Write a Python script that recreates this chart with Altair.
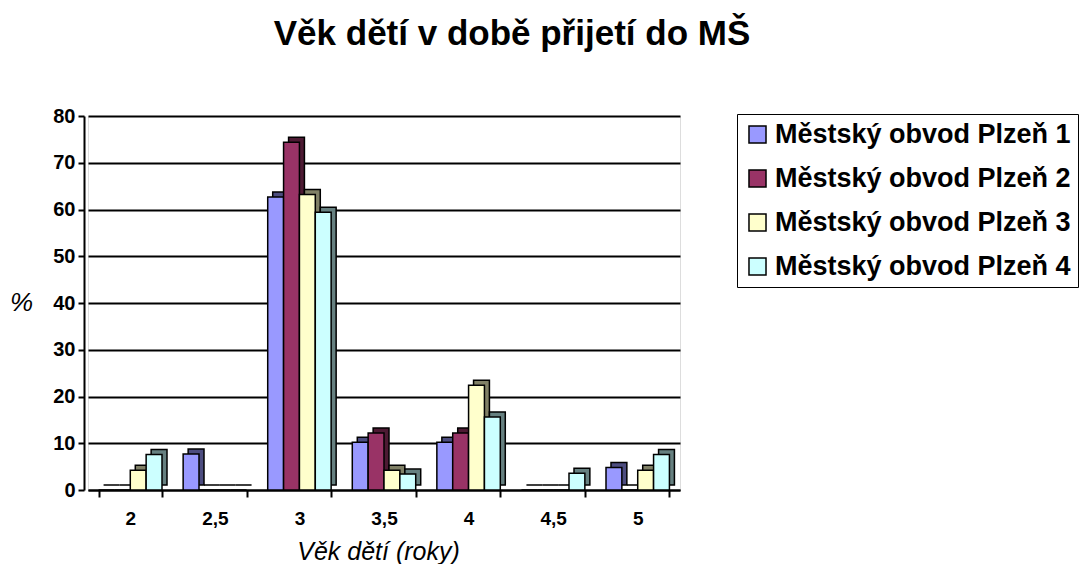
import altair as alt
import pandas as pd

categories = ["2", "2,5", "3", "3,5", "4", "4,5", "5"]
series = ["Městský obvod Plzeň 1", "Městský obvod Plzeň 2", "Městský obvod Plzeň 3", "Městský obvod Plzeň 4"]
p1 = [0, 7.7, 62.7, 10.2, 10.2, 0, 4.8]
p2 = [0, 0, 74.4, 12.2, 12.2, 0, 0]
p3 = [4.2, 0, 63.2, 4.2, 22.4, 0, 4.2]
p4 = [7.6, 0, 59.4, 3.4, 15.6, 3.6, 7.6]
colors = ["#9999FF", "#993366", "#FFFFCC", "#CCFFFF"]
side_colors = ["#4D4D80", "#4D1A33", "#808066", "#668080"]

rows = []
for s, vals in zip(series, [p1, p2, p3, p4]):
    for c, v in zip(categories, vals):
        rows.append({"vek": c, "obvod": s, "pct": v})
df = pd.DataFrame(rows)

FONT = "Liberation Sans"
W, H = 592, 374
PAD_IN, PAD_OUT = 0.25, 0.125
step = W / (len(categories) - PAD_IN + 2 * PAD_OUT)
band = step * (1 - PAD_IN)
DEPTH = 5

x_enc = alt.X("vek:N", sort=categories,
              scale=alt.Scale(paddingInner=PAD_IN, paddingOuter=PAD_OUT),
              axis=alt.Axis(title="Věk dětí (roky)", labelAngle=0, tickBand="extent",
                            labelFont=FONT, labelFontSize=19, labelFontWeight="bold",
                            labelColor="black", labelPadding=12,
                            domainColor="black", domainWidth=2, tickColor="black",
                            tickWidth=2, tickSize=7,
                            titleFont=FONT, titleFontSize=25, titleFontStyle="italic",
                            titleFontWeight="normal", titleColor="black",
                            titleX=290, titleY=69, titleBaseline="alphabetic", titleAlign="center"))
y_enc = alt.Y("pct:Q", scale=alt.Scale(domain=[0, 80], nice=False),
              axis=alt.Axis(title="%", values=list(range(0, 81, 10)), offset=4,
                            labelFont=FONT, labelFontSize=20, labelFontWeight="bold",
                            labelColor="black", labelPadding=3,
                            domainColor="black", domainWidth=2, tickColor="black",
                            tickWidth=2, tickSize=6,
                            grid=True, gridColor="black", gridWidth=2,
                            titleFont=FONT, titleFontSize=26, titleFontStyle="italic",
                            titleFontWeight="normal", titleColor="black", titleAngle=0,
                            titleX=-63, titleY=186, titleBaseline="middle", titleAlign="center"))

side = alt.Chart(df).mark_bar(stroke="black", strokeWidth=1.5,
                              yOffset=-DEPTH, y2Offset=-DEPTH).encode(
    x=x_enc,
    xOffset=alt.XOffset("obvod:N", sort=series,
                        scale=alt.Scale(range=[DEPTH, band + DEPTH])),
    y=y_enc,
    color=alt.Color("obvod:N", sort=series,
                    scale=alt.Scale(domain=series, range=side_colors), legend=None),
)

front = alt.Chart(df).mark_bar(stroke="black", strokeWidth=1.5).encode(
    x=x_enc,
    xOffset=alt.XOffset("obvod:N", sort=series, scale=alt.Scale(range=[0, band])),
    y=y_enc,
    fill=alt.Fill("obvod:N", sort=series,
                  scale=alt.Scale(domain=series, range=colors),
                  legend=alt.Legend(title=None, orient="none", legendX=649, legendY=-2,
                                    symbolType="square", symbolSize=290,
                                    symbolStrokeColor="black", symbolStrokeWidth=1.5,
                                    labelFont=FONT, labelFontSize=27, labelFontWeight="bold",
                                    labelColor="black", rowPadding=16, padding=7,
                                    labelLimit=400,
                                    strokeColor="black", fillColor="white")),
)

chart = alt.layer(side, front).resolve_scale(color="independent", xOffset="independent").properties(
    width=W, height=H,
    autosize=alt.AutoSizeParams(type="none"),
    padding={"left": 80, "top": 108, "right": 400, "bottom": 74},
    title=alt.TitleParams("Věk dětí v době přijetí do MŠ", font=FONT, fontSize=35,
                          fontWeight="bold", color="black", anchor="middle",
                          dx=128, offset=54),
).configure_view(stroke="#999999", strokeWidth=2).configure(background="white")

chart.save("out.html", embed_options={"renderer": "svg", "actions": False})
